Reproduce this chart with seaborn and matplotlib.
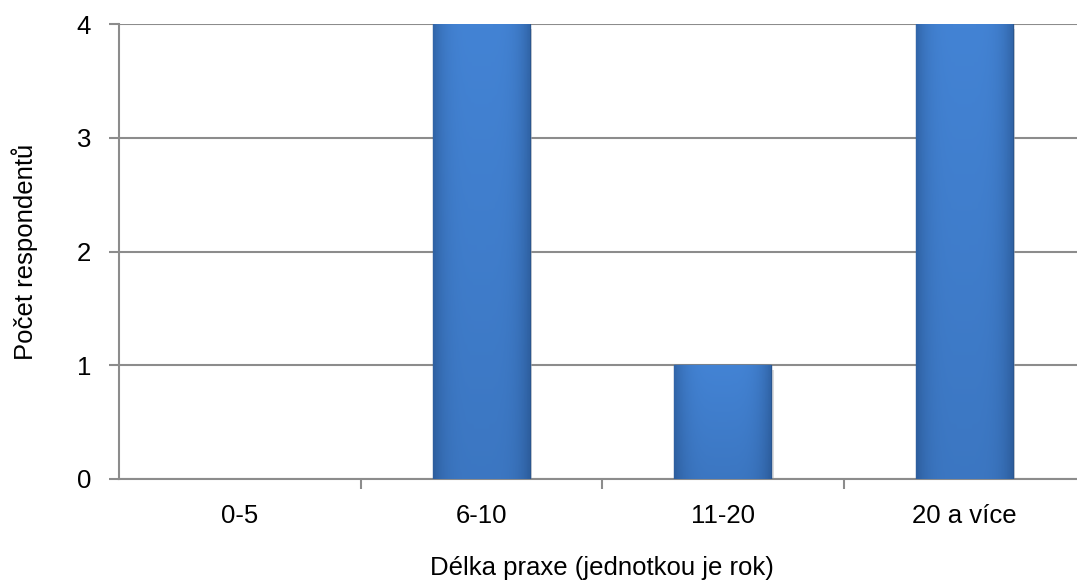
import numpy as np
import pandas as pd
import matplotlib
matplotlib.use('Agg')
import matplotlib.pyplot as plt
import seaborn as sns

categories = ['0-5', '6-10', '11-20', '20 a více']
counts = [0, 4, 1, 4]
y_ticks = [0, 1, 2, 3, 4]

sns.set_style('white')
plt.rcParams['font.family'] = ['Liberation Sans', 'DejaVu Sans']
plt.rcParams['text.color'] = 'black'
plt.rcParams['axes.labelcolor'] = 'black'
plt.rcParams['xtick.labelcolor'] = 'black'
plt.rcParams['ytick.labelcolor'] = 'black'
FS = 18.5

df = pd.DataFrame({'kategorie': categories, 'pocet': counts})

fig = plt.figure(figsize=(10.77, 5.84), dpi=100)
ax = fig.add_axes([0.1105, 0.1798, 0.897, 0.779])

sns.barplot(data=df, x='kategorie', y='pocet', color='#3D7BCB', width=0.40,
            saturation=1, edgecolor='#2A568F', linewidth=1.0, ax=ax, zorder=3)

# soft shading on bars: slightly darker towards edges and bottom
gx = np.linspace(0, 1, 64)
gy = np.linspace(0, 1, 64)[:, None]
shade = 1 - 0.35 * (np.abs(gx - 0.5) * 2) ** 4
shade = shade[None, :] * (0.85 + 0.15 * gy)
cmap = matplotlib.colors.LinearSegmentedColormap.from_list(
    'bar', ['#2D5E9E', '#4383D4'])
for p in ax.patches:
    h = p.get_height()
    if h <= 0:
        p.set_linewidth(0)
        continue
    x0 = p.get_x()
    w = p.get_width()
    ax.add_patch(plt.Rectangle((x0 + 0.01, -0.04), w, h, color='#BBBBBB',
                               alpha=0.5, zorder=2, lw=0))
    im = ax.imshow(shade, extent=[x0, x0 + w, 0, h], aspect='auto', cmap=cmap,
                   vmin=0.55, vmax=1.0, origin='lower', zorder=3.5)
    im.set_clip_path(p)

ax.set_xlim(-0.5, 3.5)
ax.set_ylim(0, 4)
ax.set_yticks(y_ticks)
ax.set_yticklabels([str(t) for t in y_ticks], fontsize=FS)
ax.set_xticks(range(len(categories)))
ax.set_xticklabels(categories, fontsize=FS)
ax.set_xticks([0.5, 1.5, 2.5], minor=True)

ax.yaxis.grid(True, color='#8C8C8C', linewidth=1.5, zorder=0)
ax.set_axisbelow(True)
for s in ['top', 'right']:
    ax.spines[s].set_visible(False)
for s in ['left', 'bottom']:
    ax.spines[s].set_color('#8C8C8C')
    ax.spines[s].set_linewidth(1.5)

ax.tick_params(axis='y', length=7, width=1.5, color='#8C8C8C', direction='out',
               left=True, pad=13)
ax.tick_params(axis='x', which='major', length=0, pad=18)
ax.tick_params(axis='x', which='minor', length=7, width=1.5, color='#8C8C8C',
               direction='out', bottom=True)

ax.set_xlabel('Délka praxe (jednotkou je rok)', fontsize=FS, labelpad=20)
ax.set_ylabel('Počet respondentů', fontsize=FS, labelpad=28)

fig.savefig('out.png', dpi=100)
